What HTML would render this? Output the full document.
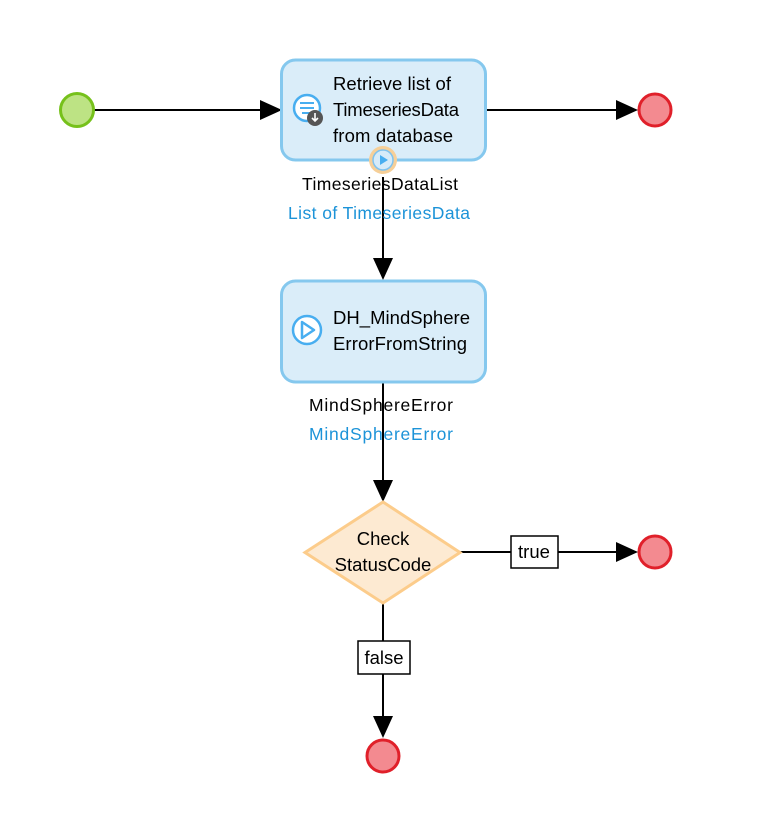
<!DOCTYPE html>
<html><head><meta charset="utf-8"><style>
body{margin:0;background:#fff;}
svg{display:block;font-family:"Liberation Sans",sans-serif;}
</style></head><body>
<svg width="762" height="817" viewBox="0 0 762 817" xmlns="http://www.w3.org/2000/svg">
<g stroke="#000" stroke-width="2" fill="none">
<line x1="94" y1="110" x2="262" y2="110"/>
<line x1="486" y1="110" x2="618" y2="110"/>
<line x1="383" y1="177" x2="383" y2="262"/>
<line x1="383" y1="382" x2="383" y2="484"/>
<line x1="460" y1="552" x2="618" y2="552"/>
<line x1="383" y1="603" x2="383" y2="720"/>
</g>
<g fill="#000">
<polygon points="260,100 282,110 260,120"/>
<polygon points="616,100 638,110 616,120"/>
<polygon points="373,258 383,280 393,258"/>
<polygon points="373,480 383,502 393,480"/>
<polygon points="616,542 638,552 616,562"/>
<polygon points="373,716 383,738 393,716"/>
</g>
<circle cx="77" cy="110" r="16.5" fill="#bde384" stroke="#76c11b" stroke-width="3"/>
<circle cx="655" cy="110" r="16" fill="#f38a90" stroke="#e0202a" stroke-width="3"/>
<circle cx="655" cy="552" r="16" fill="#f38a90" stroke="#e0202a" stroke-width="3"/>
<circle cx="383" cy="756" r="16" fill="#f38a90" stroke="#e0202a" stroke-width="3"/>
<rect x="281.5" y="60" width="204" height="100" rx="14" fill="#daedf9" stroke="#85c8ee" stroke-width="3"/>
<rect x="281.5" y="281" width="204" height="101" rx="14" fill="#daedf9" stroke="#85c8ee" stroke-width="3"/>
<circle cx="307" cy="108" r="13" fill="#fff" stroke="#48aef0" stroke-width="2.5"/>
<g stroke="#48aef0" stroke-width="2"><line x1="300" y1="103" x2="314" y2="103"/><line x1="300" y1="108" x2="314" y2="108"/><line x1="302" y1="113" x2="310" y2="113"/></g>
<circle cx="315" cy="118" r="8" fill="#555"/>
<path d="M315,113 v8 M312,118 l3,3 l3,-3" stroke="#fff" stroke-width="1.6" fill="none"/>
<circle cx="383" cy="160" r="14" fill="#f6cf98"/>
<circle cx="383" cy="160" r="10" fill="#d6ebf9" stroke="#7fc2ee" stroke-width="1.5"/>
<polygon points="380,155 388,160 380,165" fill="#48aef0"/>
<circle cx="307" cy="330" r="14" fill="#fff" stroke="#48aef0" stroke-width="2.5"/>
<polygon points="302,322 314,330 302,338" fill="none" stroke="#48aef0" stroke-width="2.5" stroke-linejoin="round"/>
<polygon points="383,502 460,552.5 383,603 305,552.5" fill="#fdead2" stroke="#fccc8b" stroke-width="3"/>
<rect x="511" y="536" width="47" height="32" fill="#fff" stroke="#000" stroke-width="1.5"/>
<rect x="358" y="641" width="52" height="33" fill="#fff" stroke="#000" stroke-width="1.5"/>
<g font-size="18.5" fill="#000">
<text x="333" y="90" textLength="118">Retrieve list of</text>
<text x="333" y="116" textLength="126">TimeseriesData</text>
<text x="333" y="142" textLength="120">from database</text>
<text x="333" y="324" textLength="137">DH_MindSphere</text>
<text x="333" y="350" textLength="134">ErrorFromString</text>
<text x="302" y="190" font-size="17.5" textLength="156">TimeseriesDataList</text>
<text x="288" y="219" font-size="17.5" fill="#1c93d8" textLength="182">List of TimeseriesData</text>
<text x="309" y="411" font-size="17.5" textLength="144">MindSphereError</text>
<text x="309" y="440" font-size="17.5" fill="#1c93d8" textLength="144">MindSphereError</text>
<text x="383" y="545" text-anchor="middle">Check</text>
<text x="383" y="571" text-anchor="middle">StatusCode</text>
<text x="534" y="558" text-anchor="middle">true</text>
<text x="384" y="664" text-anchor="middle">false</text>
</g>
</svg>
</body></html>
